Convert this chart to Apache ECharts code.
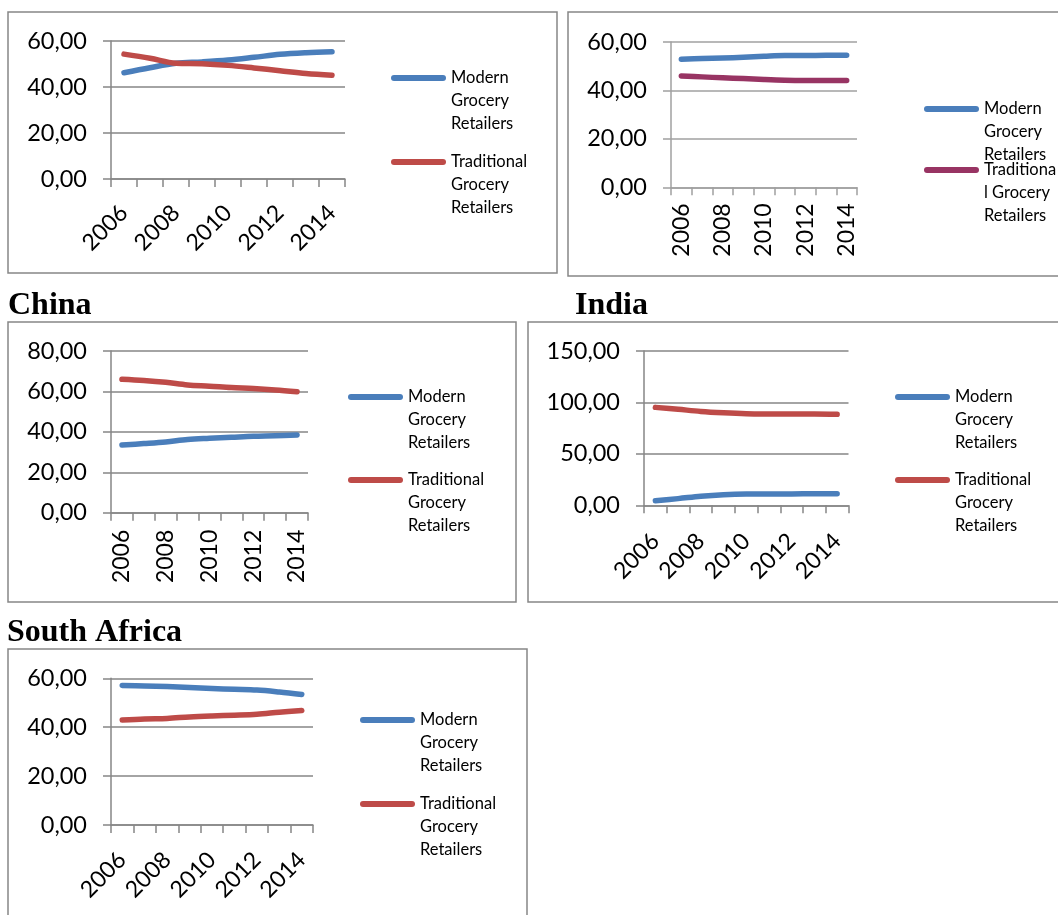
<!DOCTYPE html>
<html>
<head>
<meta charset="utf-8">
<script src="https://cdn.jsdelivr.net/npm/echarts@6/dist/echarts.min.js"></script>
<style>
  html, body { margin: 0; padding: 0; background: #ffffff; }
  #chart { width: 1058px; height: 915px; }
</style>
</head>
<body>
<div id="chart"></div>
<script>
// ---- data -------------------------------------------------------------
const years = ['2006', '2007', '2008', '2009', '2010', '2011', '2012', '2013', '2014'];
const seriesNames = ['Modern Grocery Retailers', 'Traditional Grocery Retailers'];
const countryTitles = ['China', 'India', 'South Africa'];

// market share (%) of grocery retail channels
const topLeftModern = [46.2, 48.4, 50.3, 50.9, 51.7, 52.9, 54.2, 54.9, 55.3];
const topLeftTraditional = [54.3, 52.5, 50.3, 50.1, 49.4, 48.3, 47.1, 45.9, 45.1];
const topRightModern = [52.9, 53.2, 53.4, 53.7, 54.1, 54.4, 54.4, 54.5, 54.5];
const topRightTraditional = [46.0, 45.6, 45.2, 44.9, 44.5, 44.2, 44.1, 44.1, 44.1];
const chinaModern = [33.5, 34.2, 35.0, 36.2, 36.8, 37.3, 37.8, 38.1, 38.5];
const chinaTraditional = [66.0, 65.4, 64.5, 63.2, 62.6, 61.9, 61.4, 60.7, 59.8];
const indiaModern = [4.5, 6.5, 8.8, 10.3, 11.0, 11.1, 11.1, 11.2, 11.3];
const indiaTraditional = [95.2, 93.3, 91.3, 90.0, 89.1, 88.8, 88.7, 88.7, 88.4];
const southAfricaModern = [57.1, 56.9, 56.6, 56.2, 55.8, 55.5, 55.2, 54.4, 53.4];
const southAfricaTraditional = [42.9, 43.4, 43.6, 44.2, 44.6, 44.9, 45.3, 46.1, 46.8];

// value-axis ranges: [max, step]
const topLeftAxis = [60, 20];
const topRightAxis = [60, 20];
const chinaAxis = [80, 20];
const indiaAxis = [150, 50];
const southAfricaAxis = [60, 20];

// legend wording (the second label wraps differently in one panel)
const legendLabels = {
  standard: ['Modern\nGrocery\nRetailers', 'Traditional\nGrocery\nRetailers'],
  narrow: ['Modern\nGrocery\nRetailers', 'Traditiona\nl Grocery\nRetailers']
};

// ---- styling & layout -------------------------------------------------
const BLUE = '#4A7EBB';
const RED = '#BE4B48';
const PURPLE = '#983463';
const AXIS_GRAY = '#868686';
const FONT = 'Lato, "Open Sans", sans-serif';
const LEGEND_LINE_H = 23;

const panels = [
  { modern: topLeftModern, trad: topLeftTraditional, axis: topLeftAxis,
    grid: { left: 111, top: 41, width: 234, height: 138 }, rotate: 45, labelMargin: 30,
    tradColor: RED, axisColor: AXIS_GRAY, legendX: 391, legendY: [78, 162], labels: legendLabels.standard,
    frame: [8, 12, 549, 261] },
  { modern: topRightModern, trad: topRightTraditional, axis: topRightAxis,
    grid: { left: 671, top: 42, width: 186, height: 145.3 }, rotate: 90, labelMargin: 16,
    tradColor: PURPLE, axisColor: '#a0a0a0', legendX: 924, legendY: [109, 170], labels: legendLabels.narrow,
    frame: [568, 12, 520, 264] },
  { modern: chinaModern, trad: chinaTraditional, axis: chinaAxis,
    grid: { left: 111, top: 351, width: 197, height: 161.7 }, rotate: 90, labelMargin: 17,
    tradColor: RED, axisColor: AXIS_GRAY, legendX: 348, legendY: [397, 480], labels: legendLabels.standard,
    frame: [8, 322, 508, 280] },
  { modern: indiaModern, trad: indiaTraditional, axis: indiaAxis,
    grid: { left: 644, top: 351, width: 204.5, height: 154.3 }, rotate: 45, labelMargin: 32,
    tradColor: RED, axisColor: AXIS_GRAY, legendX: 895, legendY: [397, 480], labels: legendLabels.standard,
    frame: [528, 322, 560, 280] },
  { modern: southAfricaModern, trad: southAfricaTraditional, axis: southAfricaAxis,
    grid: { left: 111, top: 678.3, width: 202, height: 146.7 }, rotate: 45, labelMargin: 31,
    tradColor: RED, axisColor: AXIS_GRAY, legendX: 360, legendY: [720, 804], labels: legendLabels.standard,
    frame: [8, 649, 519, 300] }
];

const titlePositions = [
  { left: 8, top: 290 },
  { left: 575, top: 290 },
  { left: 7, top: 617 }
];

const legendIcon = 'path://M3,0H52A3,3,0,0,1,52,6H3A3,3,0,0,1,3,0Z';
const fmt = v => v.toFixed(2).replace('.', ',');

const grids = [], xAxes = [], yAxes = [], series = [], legends = [], frames = [];

panels.forEach((p, i) => {
  grids.push(Object.assign({ containLabel: false }, p.grid));

  xAxes.push({
    type: 'category', gridIndex: i, data: years, boundaryGap: true,
    axisLine: { show: true, lineStyle: { color: p.axisColor, width: 1.5 } },
    axisTick: { show: true, interval: 0, length: 8, lineStyle: { color: p.axisColor, width: 1.5 } },
    axisLabel: { interval: 1, rotate: p.rotate, margin: p.labelMargin,
      fontFamily: FONT, fontSize: 23, color: '#000' },
    splitLine: { show: false }
  });

  yAxes.push({
    type: 'value', gridIndex: i, min: 0, max: p.axis[0], interval: p.axis[1],
    axisLine: { show: true, lineStyle: { color: p.axisColor, width: 1.5 } },
    axisTick: { show: true, length: 8, lineStyle: { color: p.axisColor, width: 1.5 } },
    axisLabel: { margin: 24, formatter: fmt, fontFamily: FONT, fontSize: 23.5, color: '#000' },
    splitLine: { show: true, lineStyle: { color: p.axisColor, width: 1.5 } }
  });

  const colors = [BLUE, p.tradColor];
  [p.modern, p.trad].forEach((vals, k) => {
    series.push({
      type: 'line', name: seriesNames[k], xAxisIndex: i, yAxisIndex: i,
      data: vals, smooth: 0.35, symbol: 'none', color: colors[k],
      lineStyle: { width: 5.5, color: colors[k], cap: 'round', join: 'round' },
      z: 3 + k
    });
    // two blank lines above the label keep its first line level with the legend line
    const label = '\n\n' + p.labels[k];
    legends.push({
      left: p.legendX, top: p.legendY[k] - 2.5 * LEGEND_LINE_H, padding: 0, orient: 'vertical',
      itemWidth: 55, itemHeight: 6, itemGap: 0, icon: legendIcon, selectedMode: false,
      data: [{ name: seriesNames[k], itemStyle: { color: colors[k] } }],
      formatter: () => label,
      textStyle: { fontFamily: FONT, fontSize: 16.5, color: '#000', lineHeight: LEGEND_LINE_H }
    });
  });

  frames.push({
    type: 'rect', silent: true, z: 0,
    shape: { x: p.frame[0], y: p.frame[1], width: p.frame[2], height: p.frame[3] },
    style: { fill: 'none', stroke: AXIS_GRAY, lineWidth: 1.5 }
  });
});

const titles = countryTitles.map((t, i) => ({
  text: t, left: titlePositions[i].left, top: titlePositions[i].top, padding: 0,
  textStyle: { fontFamily: '"Liberation Serif", "Times New Roman", serif', fontWeight: 'bold', fontSize: 32, color: '#000' }
}));

const chart = echarts.init(document.getElementById('chart'), null, { renderer: 'canvas' });
chart.setOption({
  animation: false,
  backgroundColor: '#ffffff',
  title: titles,
  grid: grids,
  xAxis: xAxes,
  yAxis: yAxes,
  legend: legends,
  series: series,
  graphic: { elements: frames }
});
</script>
</body>
</html>
